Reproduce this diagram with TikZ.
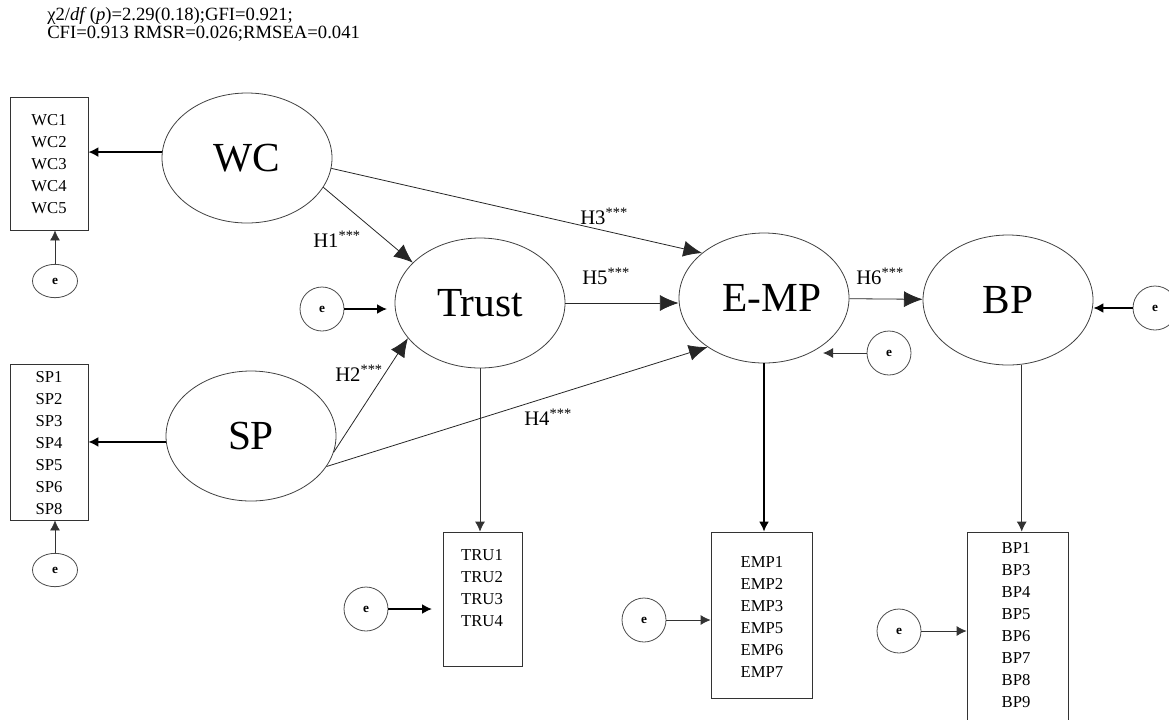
\documentclass[tikz,border=0pt]{standalone}
\usepackage{fontspec}
\setmainfont{Liberation Serif}
\usetikzlibrary{arrows.meta,calc,shapes}

\tikzset{
  latent/.style={ellipse,draw=black!75,line width=.6pt,minimum width=127.5pt,
    minimum height=97.5pt,inner sep=0pt,font=\fontsize{31}{34}\selectfont},
  err/.style={circle,draw=black!70,line width=.6pt,minimum size=33pt,inner sep=0pt,
    font=\fontsize{10}{12}\selectfont\bfseries},
  errx/.style={err,ellipse,minimum width=33.75pt,minimum height=25pt},
  itembox/.style={draw=black!80,line width=.6pt,inner sep=0pt},
  items/.style={align=center,inner sep=0pt,font=\fontsize{12.5}{16.5}\selectfont},
  hyp/.style={anchor=base west,inner sep=0pt,font=\fontsize{15.5}{18}\selectfont},
  stat/.style={anchor=base west,inner sep=0pt,font=\fontsize{14}{16}\selectfont},
  big/.style={-{Latex[length=14pt,width=12pt]},black!85,line width=.6pt},
  small/.style={-{Latex[length=7.5pt,width=7.5pt]},black!80,line width=.6pt},
  wide/.style={black,line width=1.3pt}
}

\begin{document}
\begin{tikzpicture}[x=0.75pt,y=-0.75pt]
  \useasboundingbox (0,0) rectangle (1169,719);

  % fit indices
  \node[stat] (fit1) at (47,20) {χ2/\textit{df}\,(\textit{p})=2.29(0.18);GFI=0.921;};
  \node[stat] (fit2) at (47,38) {CFI=0.913 RMSR=0.026;RMSEA=0.041};

  % latent constructs
  \node[latent] (wc) at (247,158) {WC};
  \node[latent] (sp) at (251,436) {SP};
  \node[latent] (trust) at (480,303) {Trust};
  \node[latent] (emp) at (764,298) {\hspace*{12pt}E-MP};
  \node[latent] (bp) at (1008,300) {BP};

  % indicator boxes
  \node[itembox,minimum width=58.5pt,minimum height=99.75pt] (wcbox) at (49,163.5) {};
  \node[itembox,minimum width=58.5pt,minimum height=117pt] (spbox) at (49,442) {};
  \node[itembox,minimum width=59.25pt,minimum height=100.5pt] (trubox) at (482.5,599) {};
  \node[itembox,minimum width=75.75pt,minimum height=124.5pt] (empbox) at (761.5,615) {};
  \node[itembox,minimum width=75.75pt,minimum height=150pt] (bpbox) at (1017.5,632) {};
  \node[items] (wcitems) at (49,164.5) {WC1\\WC2\\WC3\\WC4\\WC5};
  \node[items] (spitems) at (49,443.5) {SP1\\SP2\\SP3\\SP4\\SP5\\SP6\\SP8};
  \node[items] (truitems) at (482,588) {TRU1\\TRU2\\TRU3\\TRU4};
  \node[items] (empitems) at (762,617) {EMP1\\EMP2\\EMP3\\EMP5\\EMP6\\EMP7};
  \node[items] (bpitems) at (1016,625) {BP1\\BP3\\BP4\\BP5\\BP6\\BP7\\BP8\\BP9};

  % error terms
  \node[errx] (wce) at (55,281) {e};
  \node[errx] (spe) at (55,570) {e};
  \node[err] (te) at (322,309) {e};
  \node[err] (tbe) at (366,609) {e};
  \node[err] (embe) at (644,620) {e};
  \node[err] (bpbe) at (899,631) {e};
  \node[err] (empe) at (889,353) {e};
  \node[err] (bpe) at (1155,308) {e};
  \coordinate (tin) at (387,309);
  \coordinate (truin) at (432,609);
  \coordinate (empin) at (823,353);

  % measurement part
  \draw[small,wide] (wc.176) -- (wc.176 -| wcbox.east);
  \draw[small,wide] (sp.184) -- (sp.184 -| spbox.east);
  \draw[small] (trust.south) -- (trust.south |- trubox.north);
  \draw[small,wide] (emp.south) -- (emp.south |- empbox.north);
  \draw[small] (bp.-78) -- (bp.-78 |- bpbox.north);
  \draw[small] (wce) -- (wce |- wcbox.south);
  \draw[small] (spe) -- (spe |- spbox.south);
  \draw[small,wide] (te) -- (tin);
  \draw[small,wide] (tbe) -- (truin);
  \draw[small] (embe) -- (embe -| empbox.west);
  \draw[small] (bpbe) -- (bpbe -| bpbox.west);
  \draw[small] (empe) -- (empin);
  \draw[small,wide] (bpe) -- (bpe -| bp.east);

  % structural paths
  \path[big] (wc.-21) edge (trust.149)
    (wc.-7) edge (emp.144)
    (sp.-11) edge (trust.206)
    (sp.-22) edge (emp.221)
    (trust.east) edge (trust.east -| emp.west)
    (emp) edge (bp);
  \node[hyp] (h1) at (313,247) {H1\textsuperscript{***}};
  \node[hyp] (h2) at (335,381) {H2\textsuperscript{***}};
  \node[hyp] (h3) at (580,224) {H3\textsuperscript{***}};
  \node[hyp] (h4) at (524,425) {H4\textsuperscript{***}};
  \node[hyp] (h5) at (582,284) {H5\textsuperscript{***}};
  \node[hyp] (h6) at (856,284) {H6\textsuperscript{***}};
\end{tikzpicture}
\end{document}
